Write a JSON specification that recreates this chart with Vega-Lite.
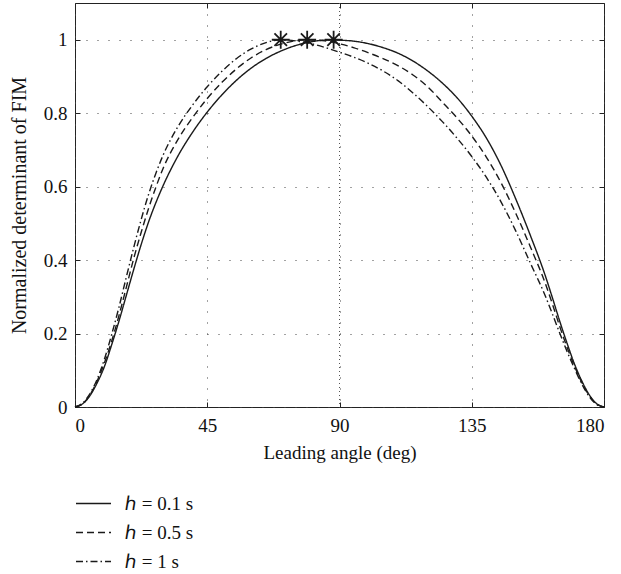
{
  "$schema": "https://vega.github.io/schema/vega-lite/v6.json",
  "autosize": "none",
  "width": 529,
  "height": 404,
  "padding": {"left": 75, "top": 3, "right": 17, "bottom": 167},
  "background": "white",
  "config": {
    "view": {"stroke": "#222", "strokeWidth": 1},
    "font": "Liberation Serif",
    "axis": {
      "labelFont": "Liberation Serif",
      "titleFont": "Liberation Serif",
      "labelFontSize": 19,
      "titleFontSize": 19,
      "titleFontWeight": "normal",
      "labelColor": "#111",
      "titleColor": "#111",
      "domain": false,
      "tickColor": "#222",
      "tickSize": -5,
      "gridColor": "#444",
      "gridDash": [1, 10],
      "gridWidth": 1
    },
    "legend": {
      "labelFont": "Liberation Serif",
      "labelFontSize": 19,
      "labelColor": "#111"
    }
  },
  "datasets": {
    "curves": [
      {"angle": 0, "value": 0, "series": "h=0.1"},
      {"angle": 2.5, "value": 0.008, "series": "h=0.1"},
      {"angle": 5, "value": 0.03, "series": "h=0.1"},
      {"angle": 7.5, "value": 0.065, "series": "h=0.1"},
      {"angle": 10, "value": 0.11, "series": "h=0.1"},
      {"angle": 12.5, "value": 0.17, "series": "h=0.1"},
      {"angle": 15, "value": 0.235, "series": "h=0.1"},
      {"angle": 17.5, "value": 0.305, "series": "h=0.1"},
      {"angle": 20, "value": 0.375, "series": "h=0.1"},
      {"angle": 22.5, "value": 0.442, "series": "h=0.1"},
      {"angle": 25, "value": 0.503, "series": "h=0.1"},
      {"angle": 27.5, "value": 0.556, "series": "h=0.1"},
      {"angle": 30, "value": 0.603, "series": "h=0.1"},
      {"angle": 35, "value": 0.683, "series": "h=0.1"},
      {"angle": 40, "value": 0.748, "series": "h=0.1"},
      {"angle": 45, "value": 0.803, "series": "h=0.1"},
      {"angle": 50, "value": 0.85, "series": "h=0.1"},
      {"angle": 55, "value": 0.89, "series": "h=0.1"},
      {"angle": 60, "value": 0.923, "series": "h=0.1"},
      {"angle": 65, "value": 0.949, "series": "h=0.1"},
      {"angle": 70, "value": 0.969, "series": "h=0.1"},
      {"angle": 75, "value": 0.984, "series": "h=0.1"},
      {"angle": 80, "value": 0.994, "series": "h=0.1"},
      {"angle": 85, "value": 0.999, "series": "h=0.1"},
      {"angle": 88, "value": 1.0, "series": "h=0.1"},
      {"angle": 90, "value": 0.999, "series": "h=0.1"},
      {"angle": 95, "value": 0.996, "series": "h=0.1"},
      {"angle": 100, "value": 0.989, "series": "h=0.1"},
      {"angle": 105, "value": 0.978, "series": "h=0.1"},
      {"angle": 110, "value": 0.963, "series": "h=0.1"},
      {"angle": 115, "value": 0.942, "series": "h=0.1"},
      {"angle": 120, "value": 0.915, "series": "h=0.1"},
      {"angle": 125, "value": 0.882, "series": "h=0.1"},
      {"angle": 130, "value": 0.842, "series": "h=0.1"},
      {"angle": 135, "value": 0.792, "series": "h=0.1"},
      {"angle": 140, "value": 0.732, "series": "h=0.1"},
      {"angle": 145, "value": 0.657, "series": "h=0.1"},
      {"angle": 150, "value": 0.566, "series": "h=0.1"},
      {"angle": 155, "value": 0.466, "series": "h=0.1"},
      {"angle": 160, "value": 0.358, "series": "h=0.1"},
      {"angle": 162.5, "value": 0.296, "series": "h=0.1"},
      {"angle": 165, "value": 0.232, "series": "h=0.1"},
      {"angle": 167.5, "value": 0.172, "series": "h=0.1"},
      {"angle": 170, "value": 0.116, "series": "h=0.1"},
      {"angle": 172.5, "value": 0.07, "series": "h=0.1"},
      {"angle": 175, "value": 0.033, "series": "h=0.1"},
      {"angle": 177.5, "value": 0.009, "series": "h=0.1"},
      {"angle": 180, "value": 0, "series": "h=0.1"},

      {"angle": 0, "value": 0, "series": "h=0.5"},
      {"angle": 2.5, "value": 0.008, "series": "h=0.5"},
      {"angle": 5, "value": 0.032, "series": "h=0.5"},
      {"angle": 7.5, "value": 0.07, "series": "h=0.5"},
      {"angle": 10, "value": 0.12, "series": "h=0.5"},
      {"angle": 12.5, "value": 0.18, "series": "h=0.5"},
      {"angle": 15, "value": 0.25, "series": "h=0.5"},
      {"angle": 17.5, "value": 0.327, "series": "h=0.5"},
      {"angle": 20, "value": 0.405, "series": "h=0.5"},
      {"angle": 22.5, "value": 0.475, "series": "h=0.5"},
      {"angle": 25, "value": 0.54, "series": "h=0.5"},
      {"angle": 27.5, "value": 0.598, "series": "h=0.5"},
      {"angle": 30, "value": 0.65, "series": "h=0.5"},
      {"angle": 35, "value": 0.728, "series": "h=0.5"},
      {"angle": 40, "value": 0.788, "series": "h=0.5"},
      {"angle": 45, "value": 0.84, "series": "h=0.5"},
      {"angle": 50, "value": 0.884, "series": "h=0.5"},
      {"angle": 55, "value": 0.921, "series": "h=0.5"},
      {"angle": 60, "value": 0.951, "series": "h=0.5"},
      {"angle": 65, "value": 0.973, "series": "h=0.5"},
      {"angle": 70, "value": 0.988, "series": "h=0.5"},
      {"angle": 75, "value": 0.997, "series": "h=0.5"},
      {"angle": 79, "value": 1.0, "series": "h=0.5"},
      {"angle": 85, "value": 0.997, "series": "h=0.5"},
      {"angle": 90, "value": 0.989, "series": "h=0.5"},
      {"angle": 95, "value": 0.978, "series": "h=0.5"},
      {"angle": 100, "value": 0.964, "series": "h=0.5"},
      {"angle": 105, "value": 0.948, "series": "h=0.5"},
      {"angle": 110, "value": 0.929, "series": "h=0.5"},
      {"angle": 115, "value": 0.904, "series": "h=0.5"},
      {"angle": 120, "value": 0.872, "series": "h=0.5"},
      {"angle": 125, "value": 0.83, "series": "h=0.5"},
      {"angle": 130, "value": 0.787, "series": "h=0.5"},
      {"angle": 135, "value": 0.738, "series": "h=0.5"},
      {"angle": 140, "value": 0.68, "series": "h=0.5"},
      {"angle": 145, "value": 0.61, "series": "h=0.5"},
      {"angle": 150, "value": 0.527, "series": "h=0.5"},
      {"angle": 155, "value": 0.435, "series": "h=0.5"},
      {"angle": 160, "value": 0.337, "series": "h=0.5"},
      {"angle": 162.5, "value": 0.279, "series": "h=0.5"},
      {"angle": 165, "value": 0.218, "series": "h=0.5"},
      {"angle": 167.5, "value": 0.161, "series": "h=0.5"},
      {"angle": 170, "value": 0.11, "series": "h=0.5"},
      {"angle": 172.5, "value": 0.066, "series": "h=0.5"},
      {"angle": 175, "value": 0.031, "series": "h=0.5"},
      {"angle": 177.5, "value": 0.008, "series": "h=0.5"},
      {"angle": 180, "value": 0, "series": "h=0.5"},

      {"angle": 0, "value": 0, "series": "h=1"},
      {"angle": 2.5, "value": 0.01, "series": "h=1"},
      {"angle": 5, "value": 0.035, "series": "h=1"},
      {"angle": 7.5, "value": 0.075, "series": "h=1"},
      {"angle": 10, "value": 0.13, "series": "h=1"},
      {"angle": 12.5, "value": 0.198, "series": "h=1"},
      {"angle": 15, "value": 0.273, "series": "h=1"},
      {"angle": 17.5, "value": 0.355, "series": "h=1"},
      {"angle": 20, "value": 0.435, "series": "h=1"},
      {"angle": 22.5, "value": 0.51, "series": "h=1"},
      {"angle": 25, "value": 0.578, "series": "h=1"},
      {"angle": 27.5, "value": 0.636, "series": "h=1"},
      {"angle": 30, "value": 0.686, "series": "h=1"},
      {"angle": 35, "value": 0.763, "series": "h=1"},
      {"angle": 40, "value": 0.822, "series": "h=1"},
      {"angle": 45, "value": 0.872, "series": "h=1"},
      {"angle": 50, "value": 0.914, "series": "h=1"},
      {"angle": 55, "value": 0.949, "series": "h=1"},
      {"angle": 60, "value": 0.975, "series": "h=1"},
      {"angle": 65, "value": 0.992, "series": "h=1"},
      {"angle": 70, "value": 1.0, "series": "h=1"},
      {"angle": 75, "value": 0.997, "series": "h=1"},
      {"angle": 80, "value": 0.99, "series": "h=1"},
      {"angle": 85, "value": 0.979, "series": "h=1"},
      {"angle": 90, "value": 0.966, "series": "h=1"},
      {"angle": 95, "value": 0.952, "series": "h=1"},
      {"angle": 100, "value": 0.935, "series": "h=1"},
      {"angle": 105, "value": 0.914, "series": "h=1"},
      {"angle": 110, "value": 0.888, "series": "h=1"},
      {"angle": 115, "value": 0.855, "series": "h=1"},
      {"angle": 120, "value": 0.818, "series": "h=1"},
      {"angle": 125, "value": 0.777, "series": "h=1"},
      {"angle": 130, "value": 0.732, "series": "h=1"},
      {"angle": 135, "value": 0.682, "series": "h=1"},
      {"angle": 140, "value": 0.625, "series": "h=1"},
      {"angle": 145, "value": 0.558, "series": "h=1"},
      {"angle": 150, "value": 0.479, "series": "h=1"},
      {"angle": 155, "value": 0.391, "series": "h=1"},
      {"angle": 160, "value": 0.303, "series": "h=1"},
      {"angle": 162.5, "value": 0.252, "series": "h=1"},
      {"angle": 165, "value": 0.2, "series": "h=1"},
      {"angle": 167.5, "value": 0.15, "series": "h=1"},
      {"angle": 170, "value": 0.104, "series": "h=1"},
      {"angle": 172.5, "value": 0.062, "series": "h=1"},
      {"angle": 175, "value": 0.028, "series": "h=1"},
      {"angle": 177.5, "value": 0.007, "series": "h=1"},
      {"angle": 180, "value": 0, "series": "h=1"}
    ],
    "peaks": [
      {"angle": 70, "value": 1.0},
      {"angle": 79, "value": 1.0},
      {"angle": 88, "value": 1.0}
    ],
    "ref": [
      {"angle": 90}
    ]
  },
  "resolve": {"axis": {"x": "independent", "y": "independent"}},
  "layer": [
    {
      "data": {"name": "curves"},
      "mark": {"type": "line", "color": "#1a1a1a", "strokeWidth": 1.4, "interpolate": "monotone"},
      "encoding": {
        "x": {
          "field": "angle", "type": "quantitative",
          "scale": {"domain": [0, 180], "nice": false},
          "axis": {"values": [0, 45, 90, 135, 180], "format": "d", "title": "Leading angle (deg)", "labelFont": "Liberation Serif", "labelFontSize": 19, "titleFont": "Liberation Serif", "titleFontSize": 19, "labelPadding": 14, "titlePadding": 8}
        },
        "y": {
          "field": "value", "type": "quantitative",
          "scale": {"domain": [0, 1.1], "nice": false},
          "axis": {"values": [0, 0.2, 0.4, 0.6, 0.8, 1], "format": "~g", "title": "Normalized determinant of FIM", "labelFont": "Liberation Serif", "labelFontSize": 19, "titleFont": "Liberation Serif", "titleFontSize": 20, "labelPadding": 13, "titlePadding": 14}
        },
        "strokeDash": {
          "field": "series", "type": "nominal",
          "scale": {"domain": ["h=0.1", "h=0.5", "h=1"], "range": [[1, 0], [7, 4], [7, 3, 1.5, 3]]},
          "legend": {
            "title": null,
            "orient": "none",
            "legendX": 0,
            "legendY": 482,
            "padding": 0,
            "symbolType": "stroke",
            "symbolSize": 1225,
            "symbolStrokeColor": "#1a1a1a",
            "symbolStrokeWidth": 1.3,
            "rowPadding": -8,
            "labelOffset": 13,
            "labelFont": "Liberation Serif",
            "labelFontSize": 19,
            "labelExpr": "datum.value == 'h=0.1' ? 'ℎ = 0.1 s' : datum.value == 'h=0.5' ? 'ℎ = 0.5 s' : 'ℎ = 1 s'"
          }
        }
      }
    },
    {
      "data": {"name": "ref"},
      "mark": {"type": "rule", "color": "#555", "strokeDash": [1, 3], "strokeWidth": 1},
      "encoding": {
        "x": {"field": "angle", "type": "quantitative", "axis": null}
      }
    },
    {
      "data": {"name": "peaks"},
      "mark": {"type": "point", "shape": "M-1,0L1,0M0,-1L0,1M-0.7,-0.7L0.7,0.7M-0.7,0.7L0.7,-0.7", "size": 320, "stroke": "#1a1a1a", "strokeWidth": 1.8, "filled": false, "opacity": 1},
      "encoding": {
        "x": {"field": "angle", "type": "quantitative", "axis": {"orient": "top", "values": [0, 45, 90, 135, 180], "labels": false, "grid": false, "title": null}},
        "y": {"field": "value", "type": "quantitative", "axis": {"orient": "right", "values": [0, 0.2, 0.4, 0.6, 0.8, 1], "labels": false, "grid": false, "title": null}}
      }
    }
  ]
}
